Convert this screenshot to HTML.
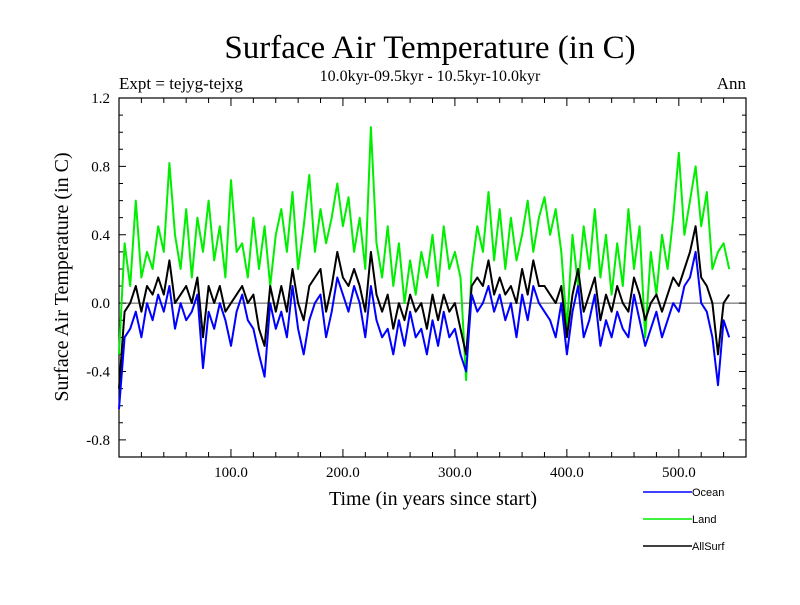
<!DOCTYPE html>
<html><head><meta charset="utf-8"><style>
body{margin:0;background:#fff;width:800px;height:600px;overflow:hidden}
svg text{font-family:"Liberation Serif",serif}
</style></head><body>
<svg id="c" width="800" height="600" xmlns="http://www.w3.org/2000/svg">
<text x="430" y="58" font-size="33" text-anchor="middle">Surface Air Temperature (in C)</text>
<text x="430" y="81" font-size="16" text-anchor="middle">10.0kyr-09.5kyr - 10.5kyr-10.0kyr</text>
<text x="119" y="89" font-size="17">Expt = tejyg-tejxg</text>
<text x="746" y="89" font-size="17" text-anchor="end">Ann</text>
<text transform="translate(68,277) rotate(-90)" font-size="20" text-anchor="middle">Surface Air Temperature (in C)</text>
<text x="433" y="505" font-size="20" text-anchor="middle">Time (in years since start)</text>
<g id="axes"></g>
<g id="series"></g>
<g id="legend"></g>
</svg>
<script>
const years=[];for(let i=0;i<110;i++)years.push(i*5);
const land=[-0.3,0.35,0.1,0.6,0.15,0.3,0.2,0.45,0.3,0.82,0.4,0.2,0.55,0.15,0.5,0.3,0.6,0.25,0.45,0.15,0.72,0.3,0.35,0.15,0.5,0.2,0.45,0.1,0.4,0.55,0.3,0.65,0.2,0.45,0.75,0.3,0.55,0.35,0.5,0.7,0.45,0.62,0.3,0.5,0.2,1.03,0.35,0.15,0.45,0.1,0.35,0.0,0.25,0.05,0.3,0.15,0.4,0.1,0.45,0.2,0.3,0.15,-0.45,0.2,0.45,0.3,0.65,0.25,0.55,0.2,0.5,0.25,0.4,0.6,0.3,0.5,0.62,0.4,0.55,0.3,-0.15,0.4,0.1,0.45,0.2,0.55,0.15,0.4,0.05,0.35,0.1,0.55,0.2,0.45,-0.2,0.3,0.05,0.4,0.2,0.5,0.88,0.4,0.6,0.8,0.45,0.65,0.2,0.3,0.35,0.2];
const ocean=[-0.62,-0.2,-0.15,-0.05,-0.2,0.0,-0.1,0.05,-0.05,0.1,-0.15,0.0,-0.1,-0.05,0.05,-0.38,-0.05,-0.15,0.0,-0.1,-0.25,-0.05,0.05,-0.1,-0.15,-0.3,-0.43,0.0,-0.15,-0.05,-0.2,0.1,-0.15,-0.3,-0.1,0.0,0.05,-0.2,-0.05,0.15,0.05,-0.05,0.1,0.0,-0.2,0.1,-0.1,-0.2,-0.15,-0.3,-0.1,-0.25,-0.05,-0.2,-0.15,-0.3,-0.1,-0.25,-0.05,-0.2,-0.15,-0.3,-0.4,0.05,-0.05,0.0,0.1,-0.05,0.05,-0.1,0.0,-0.2,0.05,-0.1,0.1,0.0,-0.05,-0.1,-0.2,0.0,-0.3,-0.05,0.1,-0.2,-0.1,0.05,-0.25,-0.1,-0.2,-0.05,-0.15,-0.2,0.05,-0.1,-0.25,-0.15,-0.05,-0.2,-0.1,0.0,-0.05,0.1,0.15,0.3,0.0,-0.05,-0.2,-0.48,-0.1,-0.2];
const allsurf=[-0.5,-0.05,0.0,0.1,-0.05,0.1,0.05,0.15,0.05,0.25,0.0,0.05,0.1,0.0,0.15,-0.2,0.1,0.0,0.1,-0.05,0.0,0.05,0.1,0.0,0.05,-0.15,-0.25,0.1,-0.05,0.1,-0.05,0.2,0.0,-0.1,0.1,0.15,0.2,-0.05,0.1,0.3,0.15,0.1,0.2,0.1,-0.05,0.3,0.05,-0.05,0.05,-0.15,0.0,-0.1,0.05,-0.05,0.0,-0.15,0.05,-0.1,0.05,-0.05,0.0,-0.15,-0.3,0.1,0.15,0.1,0.25,0.05,0.15,0.05,0.1,0.0,0.2,0.05,0.25,0.1,0.1,0.05,0.0,0.1,-0.2,0.05,0.2,-0.05,0.05,0.15,-0.1,0.05,-0.05,0.1,0.0,-0.05,0.15,0.05,-0.1,0.0,0.05,-0.05,0.05,0.15,0.1,0.2,0.3,0.45,0.15,0.1,0.0,-0.3,0.0,0.05];
const yTicks=[1.2,0.8,0.4,0.0,-0.4,-0.8];
const yTickLabels=["1.2","0.8","0.4","0.0","-0.4","-0.8"];
const xTicks=[100,200,300,400,500];
const xTickLabels=["100.0","200.0","300.0","400.0","500.0"];
const L=119,R=746,T=98,B=457,X0=0,X1=560,Y0=-0.9,Y1=1.2;
const xs=v=>L+(v-X0)/(X1-X0)*(R-L);
const ys=v=>B-(v-Y0)/(Y1-Y0)*(B-T);
const NS="http://www.w3.org/2000/svg";
function mk(t,a,p){const e=document.createElementNS(NS,t);for(const k in a)e.setAttribute(k,a[k]);p.appendChild(e);return e;}
const ax=document.getElementById('axes');
let zl=mk('line',{x1:L,x2:R,y1:ys(0),y2:ys(0),stroke:'#555','stroke-width':1},ax);


let fr=mk('rect',{x:L,y:T,width:R-L,height:B-T,fill:'none',stroke:'#000','stroke-width':1.2},ax);


let tk='';
for(let v=-0.9;v<=1.2001;v+=0.1){const y=ys(v);const maj=Math.abs(Math.round(v*10)%4)==0;const l=maj?7:4;tk+=`M${L},${y}h${l}M${R},${y}h${-l}`;}
for(let v=20;v<X1;v+=20){const x=xs(v);const l=(v%100==0)?8:5;tk+=`M${x},${B}v${-l}M${x},${T}v${l}`;}
let tp=mk('path',{d:tk,stroke:'#000','stroke-width':1,fill:'none'},ax);


yTicks.forEach((v,i)=>{const t=mk('text',{x:L-9,y:ys(v)+5,'font-size':15,'text-anchor':'end'},ax);t.textContent=yTickLabels[i];

});
xTicks.forEach((v,i)=>{const t=mk('text',{x:xs(v),y:B+20,'font-size':15,'text-anchor':'middle'},ax);t.textContent=xTickLabels[i];

});
const sg=document.getElementById('series');
function line(arr,col,name){const d=arr.map((v,i)=>(i?'L':'M')+xs(years[i]).toFixed(1)+','+ys(v).toFixed(1)).join('');
const p=mk('path',{d:d,stroke:col,'stroke-width':2,fill:'none','stroke-linejoin':'round'},sg);

}
line(land,'#00ee00','land-series');
line(allsurf,'#000000','allsurf-series');
line(ocean,'#0000ff','ocean-series');
const lg=document.getElementById('legend');
[['Ocean','#0000ff',492],['Land','#00ee00',519],['AllSurf','#000000',546]].forEach(e=>{
const g=mk('g',{},lg);


mk('line',{x1:643,x2:692,y1:e[2],y2:e[2],stroke:e[1],'stroke-width':1.5},g);
const t=mk('text',{x:692,y:e[2]+4,'font-size':11,style:'font-family:"Liberation Sans",sans-serif'},g);t.textContent=e[0];});
</script>
</body></html>
